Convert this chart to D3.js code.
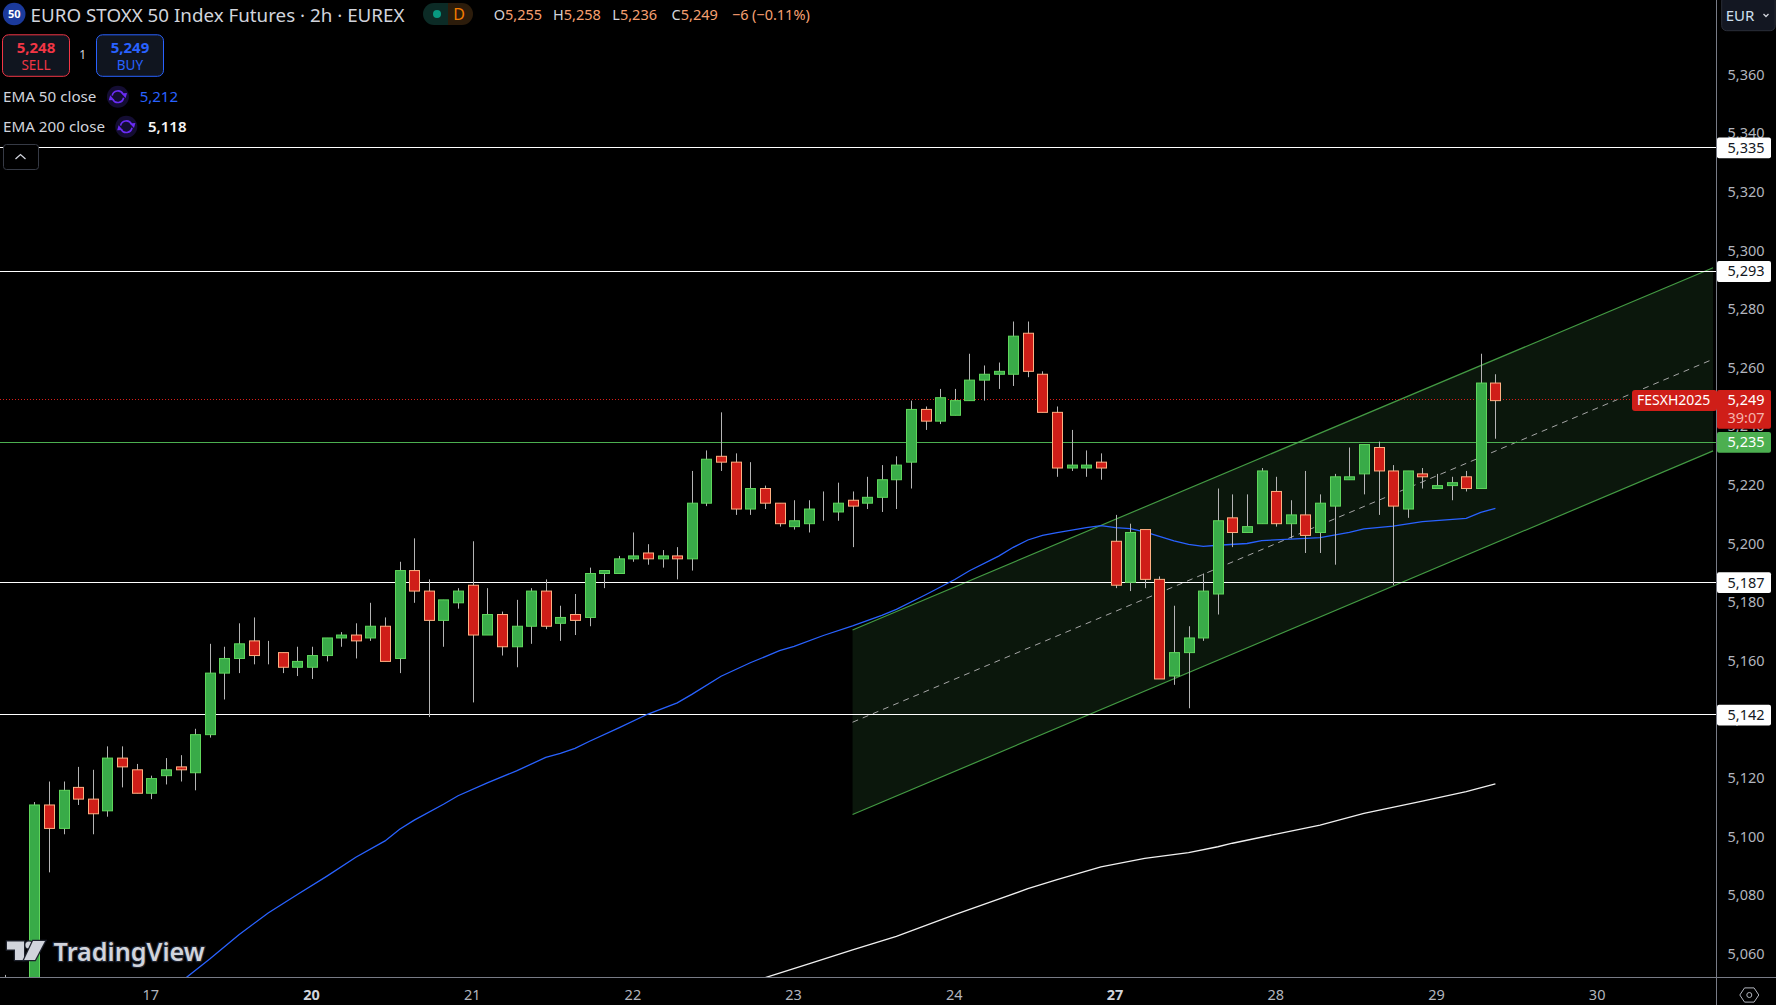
<!DOCTYPE html>
<html>

<head>
    <meta charset="utf-8">
    <style>
        html, body { margin: 0; padding: 0; background: #000; overflow: hidden; }
        text { font-family: "Noto Sans", sans-serif; }
    </style>
    <script src="https://d3js.org/d3.v7.min.js"></script>
</head>

<body>
    <script>
        // bars start two places left of the first full candle
        const firstBar = -2;
        const opens = [5040, 5045, 5036, 5111, 5103, 5117, 5113, 5109, 5127, 5123, 5115, 5121, 5124, 5122, 5135, 5156, 5161, 5167, 5163, 5163, 5158, 5158, 5162, 5168, 5169, 5168, 5172, 5161, 5191, 5184, 5174, 5180, 5186, 5169, 5176, 5165, 5172, 5184, 5173, 5176, 5175, 5190, 5190, 5195, 5197, 5195, 5196, 5195, 5214, 5230, 5228, 5212, 5219, 5214, 5206, 5207, 5212, 5211, 5215, 5214, 5216, 5222, 5228, 5246, 5242, 5244, 5249, 5256, 5258, 5258, 5272, 5258, 5245, 5226, 5226, 5228, 5201, 5187, 5205, 5188, 5155, 5163, 5168, 5183, 5209, 5204, 5207, 5218, 5207, 5210, 5204, 5213, 5222, 5224, 5233, 5225, 5212, 5224, 5219, 5220, 5223, 5219, 5255];
        const highs = [5053, 5048, 5112, 5119, 5119, 5124, 5123, 5131, 5131, 5125, 5121, 5127, 5128, 5137, 5166, 5165, 5173, 5175, 5167, 5163, 5165, 5165, 5168, 5170, 5173, 5180, 5175, 5194, 5202, 5188, 5181, 5185, 5201, 5185, 5177, 5181, 5185, 5188, 5179, 5183, 5192, 5191, 5196, 5204, 5200, 5198, 5199, 5225, 5232, 5245, 5231, 5228, 5220, 5214, 5215, 5215, 5218, 5221, 5218, 5223, 5227, 5230, 5249, 5247, 5253, 5253, 5265, 5261, 5262, 5276, 5276, 5259, 5247, 5239, 5232, 5231, 5210, 5207, 5205, 5189, 5179, 5172, 5190, 5219, 5217, 5217, 5226, 5223, 5215, 5225, 5217, 5224, 5233, 5234, 5235, 5227, 5225, 5226, 5224, 5223, 5225, 5265, 5258];
        const lows = [5030, 5038, 5030, 5088, 5101, 5111, 5101, 5107, 5117, 5115, 5113, 5118, 5119, 5116, 5134, 5147, 5156, 5159, 5159, 5156, 5155, 5154, 5160, 5165, 5161, 5167, 5160, 5156, 5180, 5141, 5165, 5178, 5146, 5169, 5162, 5158, 5166, 5171, 5167, 5169, 5172, 5185, 5190, 5194, 5193, 5192, 5188, 5191, 5213, 5225, 5210, 5210, 5212, 5206, 5205, 5204, 5208, 5208, 5199, 5212, 5211, 5212, 5219, 5239, 5241, 5244, 5249, 5249, 5253, 5254, 5257, 5245, 5223, 5225, 5223, 5222, 5185, 5184, 5185, 5154, 5152, 5144, 5167, 5176, 5199, 5204, 5207, 5206, 5202, 5197, 5197, 5193, 5222, 5217, 5210, 5186, 5209, 5219, 5219, 5215, 5218, 5219, 5236];
        const closes = [5045, 5040, 5111, 5103, 5116, 5113, 5108, 5127, 5124, 5115, 5120, 5123, 5123, 5135, 5156, 5161, 5166, 5162, 5163, 5158, 5160, 5162, 5168, 5169, 5167, 5172, 5160, 5191, 5184, 5174, 5181, 5184, 5169, 5176, 5165, 5172, 5184, 5172, 5175, 5174, 5190, 5191, 5195, 5196, 5195, 5196, 5195, 5214, 5229, 5228, 5212, 5219, 5214, 5207, 5208, 5212, 5212, 5214, 5213, 5216, 5222, 5227, 5246, 5242, 5250, 5249, 5256, 5258, 5259, 5271, 5259, 5245, 5226, 5227, 5227, 5226, 5186, 5204, 5188, 5154, 5163, 5168, 5184, 5208, 5204, 5206, 5225, 5207, 5210, 5203, 5214, 5223, 5223, 5234, 5225, 5213, 5225, 5223, 5220, 5221, 5219, 5255, 5249];

        const ema50Bars = [10, 12, 14, 16, 18, 20, 22, 24, 25, 26, 28, 29, 31, 33, 35, 36, 37, 38, 40, 42, 44, 45, 47, 49, 51, 52, 54, 56, 58, 59, 61, 63, 64, 66, 67, 68, 69, 70, 72, 73, 74, 75, 76, 77, 78, 79, 80, 81, 83, 84, 86, 88, 90, 91, 93, 95, 98, 99, 100];
        const ema50 = [5050.3, 5058.2, 5066.5, 5073.9, 5080.2, 5086.4, 5092.9, 5098.5, 5102.5, 5105.6, 5111, 5113.9, 5118.3, 5122.4, 5127, 5128.4, 5130.1, 5132.5, 5137.1, 5141.8, 5145.6, 5148.5, 5154.7, 5159.3, 5163.4, 5164.9, 5168.6, 5171.9, 5175.5, 5177.5, 5182.5, 5187.7, 5190.7, 5195.7, 5198.7, 5201.2, 5202.8, 5203.7, 5205.4, 5206.1, 5205.4, 5205.1, 5204, 5202.4, 5200.9, 5199.7, 5199, 5199.4, 5200, 5201, 5201.5, 5202, 5203.8, 5205, 5205.9, 5207.5, 5208.6, 5210.6, 5212];
        const ema200Bars = [50, 53, 56, 59, 63, 66, 68, 70, 73, 76, 79, 81, 82, 85, 88, 91, 95, 98, 100];
        const ema200 = [5051.8, 5056.5, 5061.3, 5065.9, 5073.3, 5078.6, 5082.2, 5085.3, 5089.6, 5092.5, 5094.5, 5096.5, 5097.7, 5100.8, 5103.9, 5107.9, 5112.1, 5115.3, 5118];

        const channelBars = [56, 114.9];
        const channelTop = [5170.5, 5294.1];
        const channelMid = [5139, 5262.9];
        const channelBottom = [5107.5, 5231.6];

        const whiteLevels = [5335.1, 5292.9, 5186.7, 5141.5];
        const greenLevel = 5234.6;
        const lastPrice = 5249;

        const priceTicks = [5360, 5340, 5320, 5300, 5280, 5260, 5240, 5220, 5200, 5180, 5160, 5140, 5120, 5100, 5080, 5060];
        const dayBars = [8, 19, 30, 41, 52, 63, 74, 85, 96, 107];
        const dayLabels = ['17', '20', '21', '22', '23', '24', '27', '28', '29', '30'];
        const boldDays = ['20', '27'];

        const width = 1776;
        const height = 1005;
        const plotRight = 1716.5;
        const plotBottom = 977;

        let svg = d3.select('body').append('svg')
            .attr('width', width)
            .attr('height', height)
            .style('display', 'block')
            .style('background', '#000');

        let x = d3.scaleLinear().domain([0, 100]).range([34.4, 1495.4]);
        let y = d3.scaleLinear().domain([5360, 5060]).range([74.7, 953.7]);
        let fmt = d3.format(',.0f');

        // keeps wicks and bodies on whole pixels
        let px = function (v) { return Math.round(v) + 0.5; };
        let rowY = function (v) { return Math.floor(y(v)) + 0.5; };

        svg.append('clipPath').attr('id', 'plot')
            .append('rect').attr('width', plotRight).attr('height', plotBottom);

        let plot = svg.append('g').attr('clip-path', 'url(#plot)');

        // channel
        let chan = channelBars.map(function (b, i) {
            return { bar: b, top: channelTop[i], mid: channelMid[i], bottom: channelBottom[i] };
        });
        plot.append('path')
            .attr('d', d3.area().x(d => x(d.bar)).y0(d => y(d.bottom)).y1(d => y(d.top))(chan))
            .attr('fill', '#0b170c');
        plot.append('path')
            .attr('d', d3.line().x(d => x(d.bar)).y(d => y(d.top))(chan))
            .attr('fill', 'none').attr('stroke', '#439a43').attr('stroke-width', 1.2);
        plot.append('path')
            .attr('d', d3.line().x(d => x(d.bar)).y(d => y(d.bottom))(chan))
            .attr('fill', 'none').attr('stroke', '#439a43').attr('stroke-width', 1.2);
        plot.append('path')
            .attr('d', d3.line().x(d => x(d.bar)).y(d => y(d.mid))(chan))
            .attr('fill', 'none').attr('stroke', '#a6a6a6').attr('stroke-width', 1)
            .attr('stroke-dasharray', '6,5');

        // horizontal levels
        plot.selectAll('line.level').data(whiteLevels).enter().append('line')
            .attr('class', 'level')
            .attr('x1', 0).attr('x2', plotRight)
            .attr('y1', d => rowY(d)).attr('y2', d => rowY(d))
            .attr('stroke', '#fff').attr('stroke-width', 1.2);
        plot.append('line')
            .attr('x1', 0).attr('x2', plotRight)
            .attr('y1', rowY(greenLevel)).attr('y2', rowY(greenLevel))
            .attr('stroke', '#4caf50').attr('stroke-width', 1);
        plot.append('line')
            .attr('x1', 0).attr('x2', 1632)
            .attr('y1', rowY(lastPrice)).attr('y2', rowY(lastPrice))
            .attr('stroke', '#d81e18').attr('stroke-width', 1)
            .attr('stroke-dasharray', '1,2');

        // moving averages
        let emaLine = d3.line().x(d => x(d[0])).y(d => y(d[1]));
        plot.append('path')
            .attr('d', emaLine(d3.zip(ema50Bars, ema50)))
            .attr('fill', 'none').attr('stroke', '#2962ff').attr('stroke-width', 1.3);
        plot.append('path')
            .attr('d', emaLine(d3.zip(ema200Bars, ema200)))
            .attr('fill', 'none').attr('stroke', '#f0f0f0').attr('stroke-width', 1.3);

        // candles
        let candles = opens.map(function (o, i) {
            return { bar: i + firstBar, o: o, h: highs[i], l: lows[i], c: closes[i] };
        });
        let candle = plot.selectAll('g.candle').data(candles).enter().append('g')
            .attr('class', 'candle')
            .attr('transform', 'translate(0,0.7)');
        candle.append('line')
            .attr('x1', d => px(x(d.bar))).attr('x2', d => px(x(d.bar)))
            .attr('y1', d => y(d.h)).attr('y2', d => y(d.l))
            .attr('stroke', '#b4b4b4').attr('stroke-width', 1);
        candle.append('rect')
            .attr('x', d => px(x(d.bar)) - 5)
            .attr('width', 10)
            .attr('y', d => y(Math.max(d.o, d.c)))
            .attr('height', d => Math.abs(y(d.o) - y(d.c)))
            .attr('fill', d => d.c >= d.o ? '#39ab48' : '#cf1e18')
            .attr('stroke', d => d.c >= d.o ? '#5fd65c' : '#ffb083')
            .attr('stroke-width', 1);

        // axis frame
        svg.append('line').attr('x1', plotRight).attr('x2', plotRight).attr('y1', 0).attr('y2', height)
            .attr('stroke', '#787b86').attr('stroke-width', 1);
        svg.append('line').attr('x1', 0).attr('x2', width).attr('y1', plotBottom + 0.5).attr('y2', plotBottom + 0.5)
            .attr('stroke', '#787b86').attr('stroke-width', 1);

        // price axis
        let yAxis = svg.append('g')
            .attr('transform', 'translate(' + plotRight + ',0)')
            .call(d3.axisRight(y).tickValues(priceTicks).tickFormat(d3.format(',')).tickSize(0).tickPadding(11));
        yAxis.select('.domain').remove();
        yAxis.selectAll('text')
            .attr('fill', '#b2b5be').style('font-size', '14.5px').style('font-family', '"Noto Sans", sans-serif');

        // time axis
        let xAxis = svg.append('g')
            .attr('transform', 'translate(-1,' + plotBottom + ')')
            .call(d3.axisBottom(x).tickValues(dayBars).tickFormat((d, i) => dayLabels[i]).tickSize(0).tickPadding(13));
        xAxis.select('.domain').remove();
        xAxis.selectAll('text')
            .attr('fill', d => boldDays.indexOf(dayLabels[dayBars.indexOf(d)]) >= 0 ? '#d1d4dc' : '#b2b5be')
            .style('font-weight', d => boldDays.indexOf(dayLabels[dayBars.indexOf(d)]) >= 0 ? 700 : 400)
            .style('font-size', '14.5px').style('font-family', '"Noto Sans", sans-serif');

        function label(g, str, lx, ly, size, color, anchor, weight) {
            return g.append('text').text(str)
                .attr('x', lx).attr('y', ly)
                .attr('dy', '0.35em')
                .attr('fill', color)
                .attr('text-anchor', anchor || 'start')
                .style('font-size', size + 'px')
                .style('font-weight', weight || 400);
        }

        // price tags on the axis
        whiteLevels.forEach(function (d) {
            svg.append('rect').attr('x', plotRight + 0.5).attr('y', y(d) - 10.2).attr('width', 54).attr('height', 20.8).attr('rx', 2).attr('fill', '#fff');
            label(svg, fmt(d), 1746, y(d), 14.5, '#131722', 'middle');
        });
        svg.append('rect').attr('x', plotRight + 0.5).attr('y', y(greenLevel) - 10.2).attr('width', 54).attr('height', 20.8).attr('rx', 2).attr('fill', '#4caf50');
        label(svg, fmt(greenLevel), 1746, y(greenLevel), 14.5, '#fff', 'middle');
        svg.append('rect').attr('x', plotRight + 0.5).attr('y', 390).attr('width', 54).attr('height', 38.7).attr('rx', 2).attr('fill', '#cf1e18');
        label(svg, fmt(lastPrice), 1746, y(lastPrice), 14.5, '#fff', 'middle');
        label(svg, '39:07', 1746, 417.7, 14.5, '#f5b3ad', 'middle');
        svg.append('rect').attr('x', 1632).attr('y', 390).attr('width', 85).attr('height', 21).attr('rx', 3).attr('fill', '#cf1e18');
        label(svg, 'FESXH2025', 1673.7, 400.3, 14, '#fff', 'middle');

        // settings icon
        let hex = d3.range(6).map(function (i) {
            let a = i * Math.PI / 3;
            return [1749.3 + 9.5 * Math.cos(a), 995 + 8.2 * Math.sin(a)].join(',');
        }).join(' ');
        svg.append('polygon').attr('points', hex).attr('fill', 'none').attr('stroke', '#b2b5be').attr('stroke-width', 1);
        svg.append('circle').attr('cx', 1749.3).attr('cy', 995).attr('r', 2.5).attr('fill', 'none').attr('stroke', '#b2b5be').attr('stroke-width', 1);

        // currency button
        svg.append('rect').attr('x', 1721.7).attr('y', -4).attr('width', 53.5).attr('height', 34.7).attr('rx', 5)
            .attr('fill', '#131722').attr('stroke', '#2a2e39');
        label(svg, 'EUR', 1725.7, 15.7, 15, '#cfe0f0');
        svg.append('path').attr('d', 'M1763.5 14l2.5 2.5 2.5-2.5').attr('fill', 'none').attr('stroke', '#d1d4dc').attr('stroke-width', 1.3);

        // header
        svg.append('circle').attr('cx', 14.2).attr('cy', 14).attr('r', 11.3).attr('fill', '#1b3a9c');
        label(svg, '50', 14.2, 14, 11, '#fff', 'middle', 700);
        label(svg, 'EURO STOXX 50 Index Futures · 2h · EUREX', 30.6, 15, 18.8, '#d1d4dc');

        svg.append('path').attr('d', 'M448 3H434a11 11 0 0 0 0 22h14z').attr('fill', '#0c2b26');
        svg.append('path').attr('d', 'M448 3h14a11 11 0 0 1 0 22h-14z').attr('fill', '#2c1c0b');
        svg.append('circle').attr('cx', 437).attr('cy', 14).attr('r', 4).attr('fill', '#089981');
        label(svg, 'D', 459, 14.5, 16, '#f57c00', 'middle');

        let ohlcLabels = ['O', 'H', 'L', 'C'];
        let ohlcValues = ['5,255', '5,258', '5,236', '5,249'];
        ohlcLabels.forEach(function (s, i) {
            let t = label(svg, s, 493.7 + i * 59.3, 14.5, 14.5, '#d1d4dc');
            t.append('tspan').text(ohlcValues[i]).attr('fill', '#f7a072');
        });
        label(svg, '−6', 732, 14.5, 14.5, '#f7a072');
        label(svg, '(−0.11%)', 752, 14.5, 14.5, '#f7a072');

        // order buttons
        function orderButton(bx, price, side, color) {
            svg.append('rect').attr('x', bx).attr('y', 34.8).attr('width', 67).attr('height', 41.5).attr('rx', 6)
                .attr('fill', '#10151f').attr('stroke', color).attr('stroke-width', 1);
            label(svg, price, bx + 33.5, 47.7, 15, color, 'middle', 700);
            label(svg, side, bx + 33.5, 65, 13.5, color, 'middle');
        }
        orderButton(2.5, '5,248', 'SELL', '#f23645');
        orderButton(96.5, '5,249', 'BUY', '#2962ff');
        label(svg, '1', 82.7, 54.7, 12, '#d1d4dc', 'middle');

        // indicator rows
        function refreshIcon(cx, cy) {
            let g = svg.append('g').attr('transform', 'translate(' + cx + ',' + cy + ')');
            g.append('circle').attr('r', 11).attr('fill', '#140d33');
            let arc = d3.arc().innerRadius(5).outerRadius(6.6);
            g.append('path').attr('d', arc({ startAngle: -1.4, endAngle: 1.1 })).attr('fill', '#6a2cf5');
            g.append('path').attr('d', arc({ startAngle: 1.75, endAngle: 4.25 })).attr('fill', '#6a2cf5');
            g.append('path').attr('d', 'M3.5-3.2l5.6-.4-1.4 5z').attr('fill', '#6a2cf5');
            g.append('path').attr('d', 'M-3.5 3.2l-5.6.4 1.4-5z').attr('fill', '#6a2cf5');
        }
        label(svg, 'EMA 50 close', 3, 96.7, 15.2, '#d1d4dc');
        refreshIcon(117.9, 96.7);
        label(svg, '5,212', 139.7, 96.7, 15, '#2962ff');
        label(svg, 'EMA 200 close', 3, 126.7, 15.2, '#d1d4dc');
        refreshIcon(126.3, 126.7);
        label(svg, '5,118', 148, 126.7, 15, '#f5f5f5', 'start', 600);

        // collapse button
        svg.append('rect').attr('x', 3.5).attr('y', 144.5).attr('width', 35).attr('height', 25).attr('rx', 3)
            .attr('fill', '#000').attr('stroke', '#363a45');
        svg.append('path').attr('d', 'M15.5 159l5-4.5 5 4.5').attr('fill', 'none').attr('stroke', '#d1d4dc').attr('stroke-width', 1.3);

        // logo
        let logo = svg.append('g').attr('fill', '#d1d4dc').attr('stroke', '#1e222d').attr('stroke-width', 2.5).style('paint-order', 'stroke');
        logo.append('path').attr('d', 'M7 941.5H24V960H15V949.5H7Z');
        logo.append('circle').attr('cx', 29).attr('cy', 945).attr('r', 3.6);
        logo.append('path').attr('d', 'M33 941H45L35 960H24Z');
        label(logo, 'TradingView', 53.6, 951.7, 25.2, '#d1d4dc', 'start', 600);
    </script>
</body>

</html>
